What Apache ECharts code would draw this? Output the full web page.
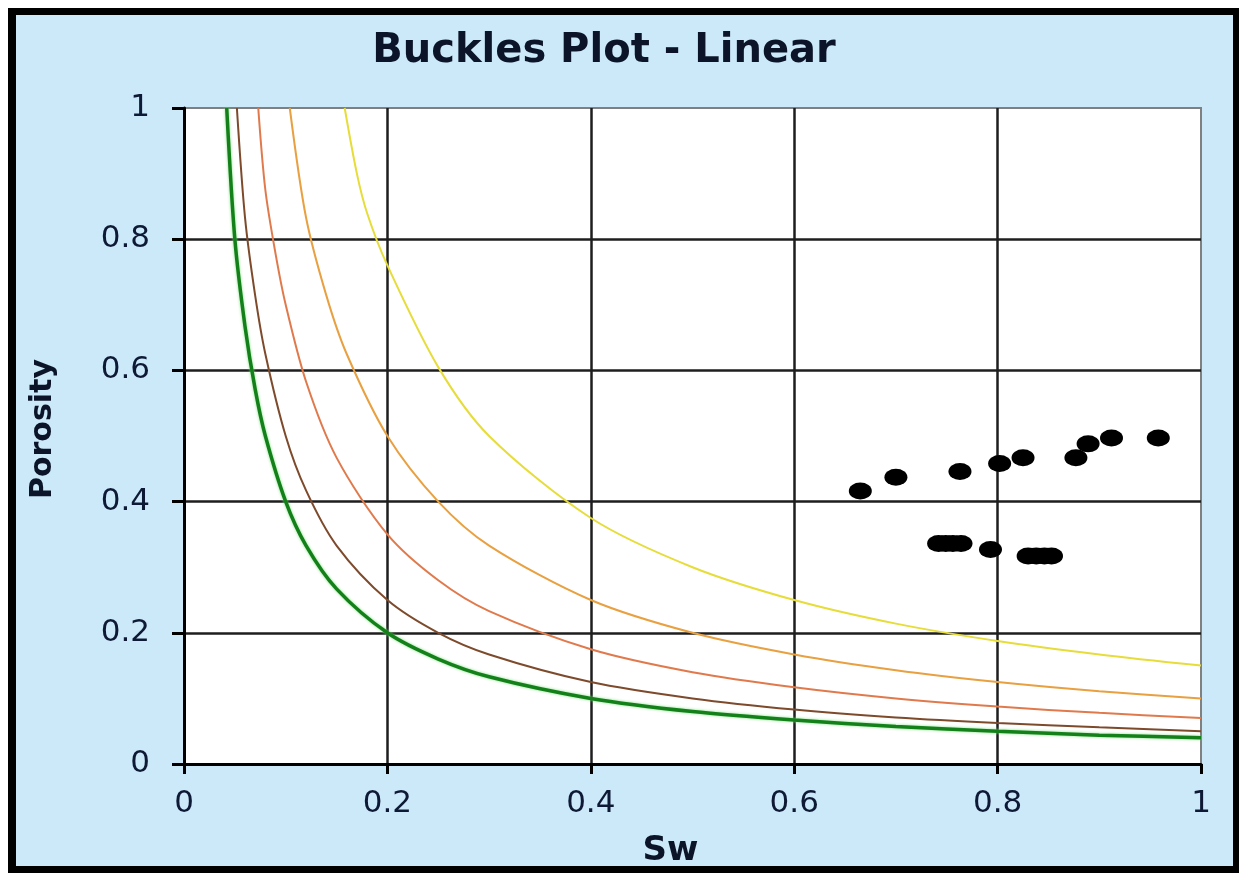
<!DOCTYPE html>
<html>
<head>
<meta charset="utf-8">
<script src="https://cdn.jsdelivr.net/npm/echarts@6/dist/echarts.min.js"></script>
<style>
  html, body { margin: 0; padding: 0; background: #ffffff; }
  #frame { position: absolute; left: 8px; top: 8px; width: 1217px; height: 851px;
           background: #cce9fa; border-style: solid; border-color: #000;
           border-width: 7px 6px 7px 8px; }
  #chart { position: absolute; left: 0; top: 0; width: 1239px; height: 873px; }
</style>
</head>
<body>
<div id="frame"></div>
<div id="chart"></div>
<script>
// ---- Data ----
const titleText = 'Buckles Plot - Linear';
const xName = 'Sw';
const yName = 'Porosity';
const xTickLabels = ['0', '0.2', '0.4', '0.6', '0.8', '1'];
const yTickLabels = ['0', '0.2', '0.4', '0.6', '0.8', '1'];

// Buckles curves (Sw, Porosity)
const greenSw  = [0.042, 0.05, 0.06, 0.07, 0.08, 0.1, 0.12, 0.15, 0.2, 0.25, 0.3, 0.4, 0.5, 0.6, 0.7, 0.8, 0.9, 1.0];
const greenPhi = [1.0, 0.80, 0.667, 0.571, 0.50, 0.40, 0.333, 0.267, 0.20, 0.16, 0.133, 0.10, 0.08, 0.067, 0.057, 0.05, 0.044, 0.04];

const brownSw  = [0.052, 0.06, 0.07, 0.08, 0.1, 0.12, 0.15, 0.2, 0.25, 0.3, 0.4, 0.5, 0.6, 0.7, 0.8, 0.9, 1.0];
const brownPhi = [1.0, 0.833, 0.714, 0.625, 0.50, 0.417, 0.333, 0.25, 0.20, 0.167, 0.125, 0.10, 0.083, 0.071, 0.0625, 0.056, 0.05];

const redSw  = [0.073, 0.08, 0.09, 0.1, 0.12, 0.15, 0.2, 0.25, 0.3, 0.4, 0.5, 0.6, 0.7, 0.8, 0.9, 1.0];
const redPhi = [1.0, 0.875, 0.778, 0.70, 0.583, 0.467, 0.35, 0.28, 0.233, 0.175, 0.14, 0.117, 0.10, 0.0875, 0.078, 0.07];

const orangeSw  = [0.104, 0.12, 0.14, 0.16, 0.2, 0.25, 0.3, 0.4, 0.5, 0.6, 0.7, 0.8, 0.9, 1.0];
const orangePhi = [1.0, 0.833, 0.714, 0.625, 0.50, 0.40, 0.333, 0.25, 0.20, 0.167, 0.143, 0.125, 0.111, 0.10];

const yellowSw  = [0.158, 0.17, 0.18, 0.2, 0.25, 0.3, 0.4, 0.5, 0.6, 0.7, 0.8, 0.9, 1.0];
const yellowPhi = [1.0, 0.90, 0.84, 0.76, 0.605, 0.50, 0.375, 0.30, 0.25, 0.214, 0.1875, 0.167, 0.15];

// Sample points
const sampleSw  = [0.665, 0.700, 0.763, 0.802, 0.825, 0.877, 0.889, 0.912, 0.958,
                   0.742, 0.749, 0.756, 0.764, 0.793, 0.830, 0.838, 0.846, 0.853];
const samplePhi = [0.416, 0.437, 0.446, 0.458, 0.467, 0.467, 0.488, 0.497, 0.497,
                   0.336, 0.336, 0.336, 0.336, 0.327, 0.317, 0.317, 0.317, 0.317];

function pairs(xs, ys) { return xs.map((x, i) => [x, ys[i]]); }

const chart = echarts.init(document.getElementById('chart'), null, { renderer: 'canvas' });

function curve(name, xs, ys, color, width, extra) {
  return Object.assign({
    name: name, type: 'line', data: pairs(xs, ys), smooth: 0.3,
    showSymbol: false, symbol: 'none', clip: true,
    lineStyle: { color: color, width: width }
  }, extra || {});
}

const labelFont = { fontFamily: 'DejaVu Sans', fontSize: 31, color: '#0e1a35' };

chart.setOption({
  animation: false,
  backgroundColor: 'transparent',
  title: {
    text: titleText, left: 599, top: 27, textAlign: 'center',
    textStyle: { fontFamily: 'DejaVu Sans', fontWeight: 'bold', fontSize: 40, color: '#0b1428' }
  },
  grid: {
    left: 184, right: 38, top: 108, bottom: 99,
    show: true, backgroundColor: '#ffffff', borderColor: '#808080', borderWidth: 2
  },
  xAxis: {
    type: 'value', min: 0, max: 1, interval: 0.2,
    name: xName, nameLocation: 'middle', nameGap: 70,
    nameTextStyle: { fontFamily: 'DejaVu Sans', fontWeight: 'bold', fontSize: 34, color: '#0b1428', padding: [0, 44, 0, 0] },
    axisLine: { show: true, onZero: false, lineStyle: { color: '#000', width: 3 } },
    axisTick: { show: true, length: 10, lineStyle: { color: '#000', width: 3 } },
    axisLabel: Object.assign({ margin: 24, formatter: v => xTickLabels[Math.round(v / 0.2)] }, labelFont),
    splitLine: { show: true, showMaxLine: false, lineStyle: { color: '#1e1e1e', width: 2.5 } }
  },
  yAxis: {
    type: 'value', min: 0, max: 1, interval: 0.2,
    name: yName, nameLocation: 'middle', nameGap: 126, nameRotate: 90,
    nameTextStyle: { fontFamily: 'DejaVu Sans', fontWeight: 'bold', fontSize: 30, color: '#0b1428', padding: [0, 0, 0, 14] },
    axisLine: { show: true, onZero: false, lineStyle: { color: '#000', width: 3 } },
    axisTick: { show: true, length: 12, lineStyle: { color: '#000', width: 3 } },
    axisLabel: Object.assign({ margin: 34, formatter: v => yTickLabels[Math.round(v / 0.2)] }, labelFont),
    splitLine: { show: true, showMaxLine: false, lineStyle: { color: '#1e1e1e', width: 2.5 } }
  },
  series: [
    curve('0.15', yellowSw, yellowPhi, '#e6dd3a', 2),
    curve('0.10', orangeSw, orangePhi, '#e8a040', 2),
    curve('0.07', redSw, redPhi, '#e07a4c', 2),
    curve('0.05', brownSw, brownPhi, '#7d4a2c', 2),
    curve('0.04', greenSw, greenPhi, '#14801a', 3.5,
      { lineStyle: { color: '#14801a', width: 3.5, shadowColor: 'rgba(120,220,120,0.9)', shadowBlur: 3 } }),
    {
      name: 'Samples', type: 'scatter', data: pairs(sampleSw, samplePhi),
      symbol: 'circle', symbolSize: [23, 17],
      itemStyle: { color: '#000000', opacity: 1 }, z: 5
    }
  ]
});
</script>
</body>
</html>
